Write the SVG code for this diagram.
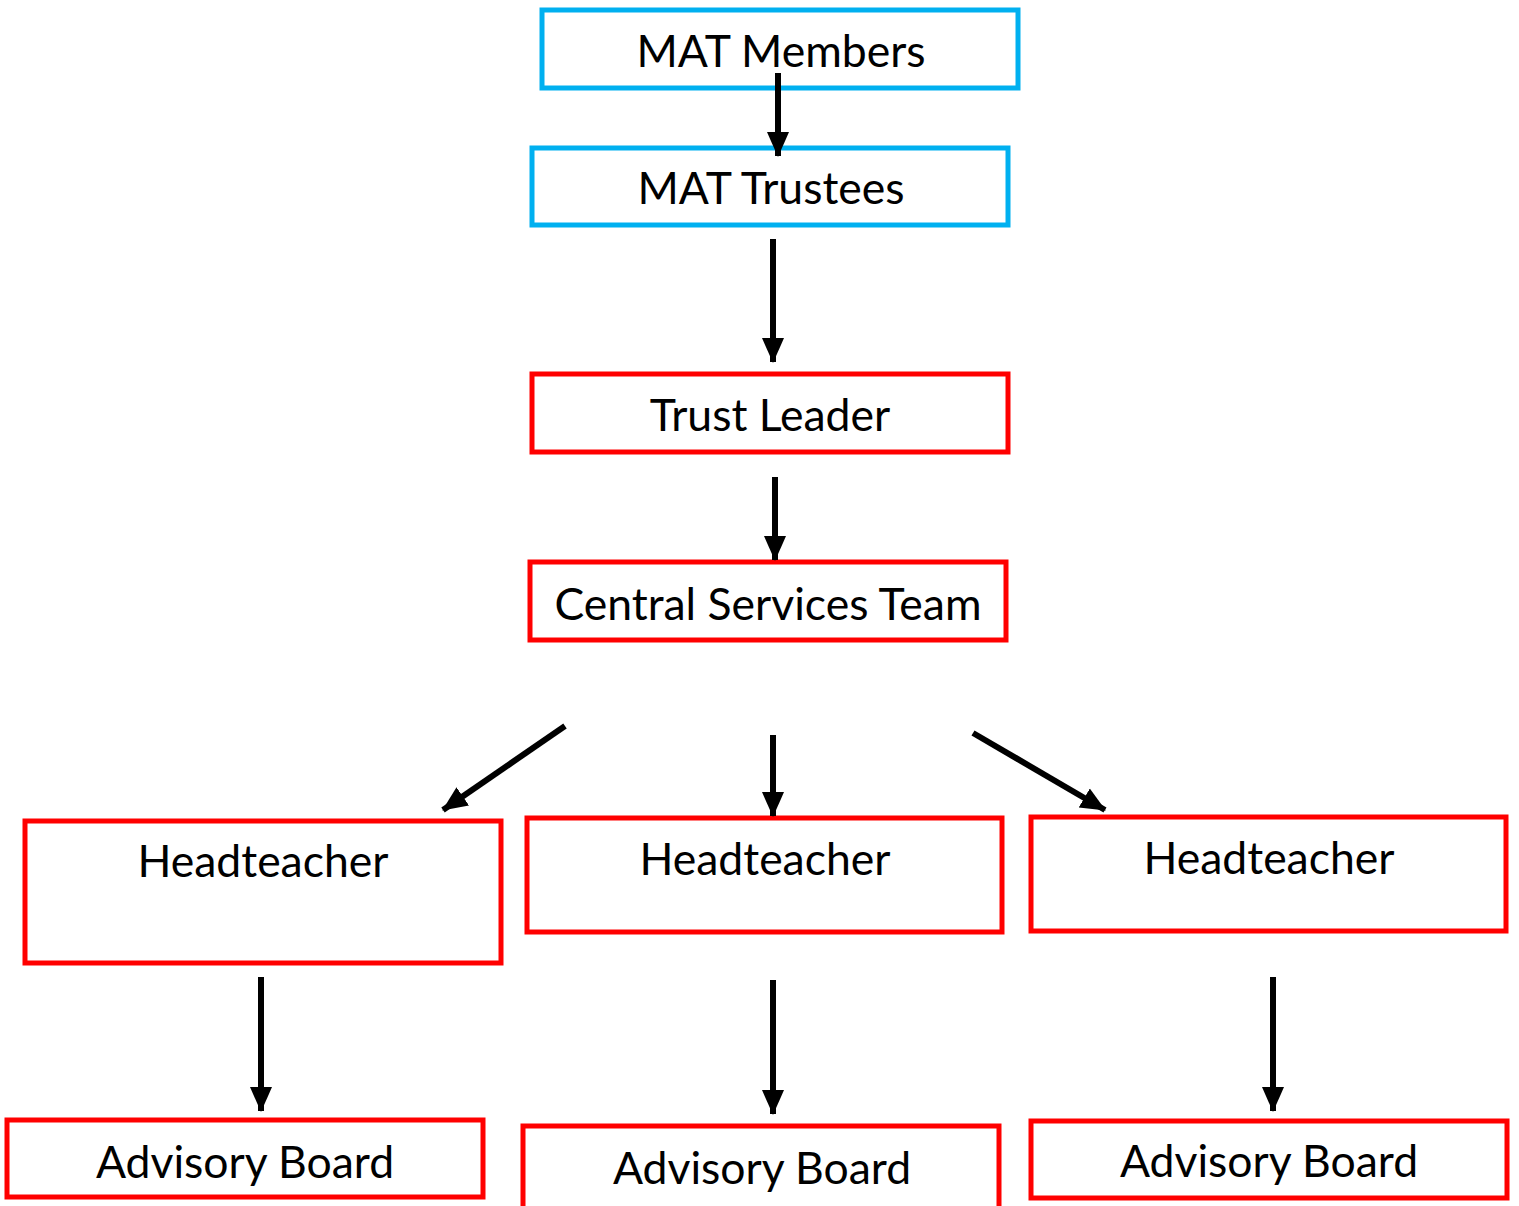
<svg xmlns="http://www.w3.org/2000/svg" width="1519" height="1206" viewBox="0 0 1519 1206">
<style>
.box{fill:#fff;stroke-width:5}
.blue{stroke:#00B0F0}
.red{stroke:#FF0000}
.t{font-family:Lato,"Liberation Sans",sans-serif;font-size:44.5px;fill:#000;text-anchor:middle}
.c{stroke:#000;stroke-width:6;fill:none}
</style>
<defs>
<marker id="ah" markerUnits="userSpaceOnUse" markerWidth="26" markerHeight="26" viewBox="0 0 26 26" refX="24" refY="13" orient="auto">
<path d="M0,2 L25,13 L0,24 Z" fill="#000"/>
</marker>
</defs>
<rect width="1519" height="1206" fill="#fff"/>
<g id="n-members"><rect class="box blue" x="542" y="10" width="476" height="78"/><text class="t" x="781" y="67">MAT Members</text></g>
<g id="n-trustees"><rect class="box blue" x="532" y="148" width="476" height="77"/><text class="t" x="771" y="204">MAT Trustees</text></g>
<g id="n-leader"><rect class="box red" x="532" y="374" width="476" height="78"/><text class="t" x="770" y="431">Trust Leader</text></g>
<g id="n-central"><rect class="box red" x="530" y="562" width="476" height="78"/><text class="t" x="768" y="620">Central Services Team</text></g>
<g id="n-ht1"><rect class="box red" x="25" y="821" width="476" height="142"/><text class="t" x="263" y="877">Headteacher</text></g>
<g id="n-ht2"><rect class="box red" x="527" y="818" width="475" height="114"/><text class="t" x="765" y="875">Headteacher</text></g>
<g id="n-ht3"><rect class="box red" x="1031" y="817" width="475" height="114"/><text class="t" x="1269" y="874">Headteacher</text></g>
<g id="n-ab1"><rect class="box red" x="7" y="1120" width="476" height="77"/><text class="t" x="245" y="1178">Advisory Board</text></g>
<g id="n-ab2"><rect class="box red" x="523" y="1126" width="476" height="84"/><text class="t" x="762" y="1184">Advisory Board</text></g>
<g id="n-ab3"><rect class="box red" x="1031" y="1121" width="476" height="77"/><text class="t" x="1269" y="1177">Advisory Board</text></g>
<g id="connectors">
<line class="c" x1="778" y1="73" x2="778" y2="156" marker-end="url(#ah)"/>
<line class="c" x1="773" y1="239" x2="773" y2="362" marker-end="url(#ah)"/>
<line class="c" x1="775" y1="477" x2="775" y2="560" marker-end="url(#ah)"/>
<line class="c" x1="565" y1="726" x2="443" y2="810" marker-end="url(#ah)"/>
<line class="c" x1="773" y1="735" x2="773" y2="816" marker-end="url(#ah)"/>
<line class="c" x1="973" y1="733" x2="1105" y2="810" marker-end="url(#ah)"/>
<line class="c" x1="261" y1="977" x2="261" y2="1111" marker-end="url(#ah)"/>
<line class="c" x1="773" y1="980" x2="773" y2="1114" marker-end="url(#ah)"/>
<line class="c" x1="1273" y1="977" x2="1273" y2="1111" marker-end="url(#ah)"/>
</g>
</svg>
